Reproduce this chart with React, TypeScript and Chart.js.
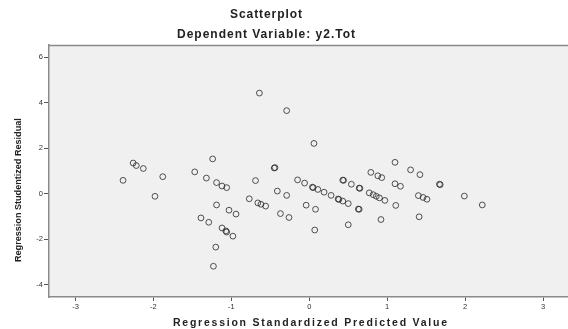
import React, { useEffect, useRef } from "react";
import { Chart, registerables } from "chart.js";

Chart.register(...registerables);

const predictedValues: number[] = [-2.39, -2.26, -2.22, -2.13, -1.98, -1.88, -1.47, -1.39, -1.32, -1.29, -1.24, -1.19, -1.19, -1.2, -1.23, -1.12, -1.06, -1.12, -1.07, -1.06, -1.03, -0.94, -0.98, -0.77, -0.69, -0.66, -0.62, -0.56, -0.64, -0.45, -0.44, -0.41, -0.37, -0.26, -0.29, -0.29, -0.15, -0.06, -0.04, 0.06, 0.05, 0.04, 0.11, 0.08, 0.07, 0.19, 0.28, 0.38, 0.37, 0.43, 0.5, 0.43, 0.44, 0.54, 0.65, 0.64, 0.64, 0.63, 0.5, 0.79, 0.88, 0.93, 0.77, 0.82, 0.86, 0.9, 0.97, 0.92, 1.1, 1.1, 1.17, 1.11, 1.3, 1.42, 1.67, 1.68, 1.4, 1.46, 1.51, 1.41, 1.99, 2.22];
const residuals: number[] = [0.59, 1.35, 1.24, 1.11, -0.11, 0.75, 0.96, -1.06, 0.69, -1.25, 1.53, 0.49, -0.49, -2.34, -3.18, 0.34, 0.27, -1.5, -1.63, -1.68, -0.72, -0.89, -1.86, -0.22, 0.58, -0.4, -0.46, -0.54, 4.42, 1.13, 1.15, 0.12, -0.87, -1.04, -0.07, 3.65, 0.61, 0.47, -0.5, 2.21, 0.27, 0.29, 0.19, -0.68, -1.59, 0.07, -0.07, -0.25, -0.23, -0.32, -0.43, 0.6, 0.59, 0.42, 0.24, 0.25, -0.68, -0.67, -1.36, 0.94, 0.79, 0.71, 0.04, -0.04, -0.11, -0.18, -0.29, -1.13, 1.38, 0.44, 0.33, -0.51, 1.05, 0.84, 0.42, 0.4, -0.08, -0.16, -0.24, -1.01, -0.1, -0.49];

const xTicks: number[] = [-3, -2, -1, 0, 1, 2, 3];
const yTicks: number[] = [-4, -2, 0, 2, 4, 6];

const chartTitle = "Scatterplot";
const chartSubtitle = "Dependent Variable: y2.Tot";
const xTitle = "Regression Standardized Predicted Value";
const yTitle = "Regression Studentized Residual";

function drawFitted(ctx: CanvasRenderingContext2D, text: string, cx: number, cy: number, target: number, size: number) {
  ctx.font = `bold ${size}px "Liberation Sans", Arial, sans-serif`;
  (ctx as any).letterSpacing = "0px";
  const w = ctx.measureText(text).width;
  let sp = (target - w) / Math.max(1, text.length - 1);
  if (sp < 0) {
    const s2 = (size * target) / w;
    ctx.font = `bold ${s2}px "Liberation Sans", Arial, sans-serif`;
    sp = 0;
  }
  (ctx as any).letterSpacing = `${sp}px`;
  ctx.textAlign = "left";
  ctx.textBaseline = "middle";
  ctx.fillText(text, cx - target / 2, cy);
  (ctx as any).letterSpacing = "0px";
}

const framePlugin = {
  id: "frame",
  beforeDraw(chart: any) {
    const { ctx, chartArea: a, width, height } = chart;
    ctx.save();
    ctx.fillStyle = "#ffffff";
    ctx.fillRect(0, 0, width, height);
    ctx.fillStyle = "#f0f0f0";
    ctx.fillRect(a.left, a.top, a.right - a.left, a.bottom - a.top);
    ctx.restore();
  },
  afterDraw(chart: any) {
    const { ctx, chartArea: a } = chart;
    ctx.save();
    ctx.strokeStyle = "#8a8a8a";
    ctx.lineWidth = 1.5;
    ctx.beginPath();
    ctx.moveTo(a.left, a.top + 0.5);
    ctx.lineTo(a.right, a.top + 0.5);
    ctx.stroke();
    ctx.fillStyle = "#222";
    drawFitted(ctx, chartTitle, 266, 15, 72, 12);
    drawFitted(ctx, chartSubtitle, 266, 35, 178, 12);
    drawFitted(ctx, xTitle, 310, 323, 274, 10.5);
    ctx.save();
    ctx.translate(18, 190);
    ctx.rotate(-Math.PI / 2);
    drawFitted(ctx, yTitle, 0, 0, 144, 9.5);
    ctx.restore();
    ctx.restore();
  },
};

export default function App() {
  const ref = useRef<HTMLCanvasElement | null>(null);
  useEffect(() => {
    if (!ref.current) return;
    const points = predictedValues.map((x, i) => ({ x, y: residuals[i] }));
    const tickFont = { family: '"Liberation Sans", Arial, sans-serif', size: 7.5 };
    const chart = new Chart(ref.current, {
      type: "scatter",
      data: {
        datasets: [
          {
            data: points,
            pointStyle: "circle",
            pointRadius: 2.9,
            pointBorderWidth: 1,
            pointBackgroundColor: "rgba(0,0,0,0)",
            pointBorderColor: "rgba(40,40,40,0.8)",
          } as any,
        ],
      },
      options: {
        animation: false,
        responsive: false,
        maintainAspectRatio: false,
        layout: { autoPadding: false, padding: { top: 45, left: 0, right: 0, bottom: 0 } },
        plugins: { legend: { display: false }, tooltip: { enabled: false }, title: { display: false } },
        scales: {
          x: {
            type: "linear",
            min: -3.34,
            max: 3.32,
            afterBuildTicks: (s: any) => {
              s.ticks = xTicks.map((v) => ({ value: v }));
            },
            afterFit: (s: any) => {
              s.height = 32;
              s.paddingLeft = 0;
              s.paddingRight = 0;
            },
            grid: { drawOnChartArea: false, drawTicks: true, tickLength: 4, color: "#555", lineWidth: 1 },
            border: { display: true, color: "#8a8a8a", width: 1.5 },
            ticks: { font: tickFont, color: "#333", padding: 1, maxRotation: 0, callback: (v: any) => String(v) },
          },
          y: {
            type: "linear",
            min: -4.53,
            max: 6.53,
            afterBuildTicks: (s: any) => {
              s.ticks = yTicks.map((v) => ({ value: v }));
            },
            afterFit: (s: any) => {
              s.width = 49;
              s.paddingTop = 0;
              s.paddingBottom = 0;
            },
            grid: { drawOnChartArea: false, drawTicks: true, tickLength: 5, color: "#555", lineWidth: 1 },
            border: { display: true, color: "#8a8a8a", width: 1.5 },
            ticks: { font: tickFont, color: "#333", padding: 1, callback: (v: any) => String(v) },
          },
        },
      },
      plugins: [framePlugin],
    });
    return () => chart.destroy();
  }, []);
  return (
    <div style={{ position: "fixed", left: 0, top: 0, width: 568, height: 329, background: "#fff" }}>
      <canvas ref={ref} width={568} height={329} style={{ width: 568, height: 329, display: "block" }} />
    </div>
  );
}
